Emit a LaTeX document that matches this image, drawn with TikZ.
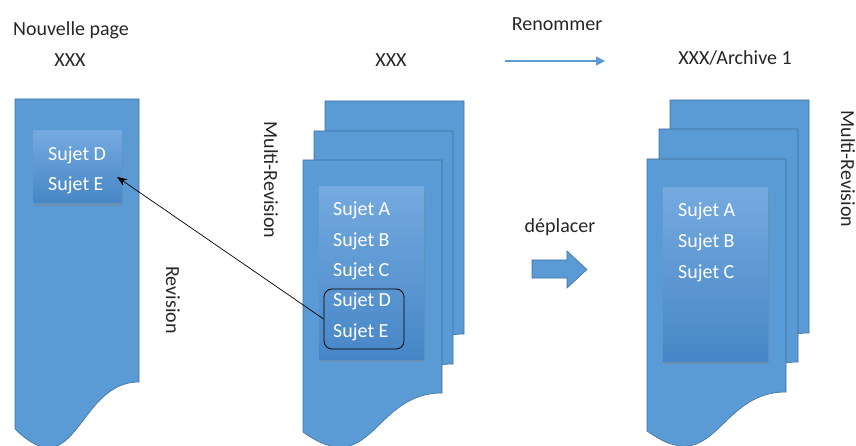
\documentclass[tikz,border=0pt]{standalone}
\usepackage{fontspec}
\setmainfont{Carlito}
\usepackage{xcolor}
\usepackage{tikz}
\usetikzlibrary{positioning,calc,shadows,arrows.meta}

\definecolor{pageblue}{HTML}{5B9BD5}
\definecolor{pageline}{HTML}{41719C}
\definecolor{boxtop}{HTML}{74AADF}
\definecolor{boxbottom}{HTML}{4786C6}
\definecolor{captiongray}{HTML}{262626}
\newcommand{\diagfont}{\fontsize{20}{24}\selectfont}

\begin{document}
\begin{tikzpicture}[
    x=1pt, y=-1pt,
    page/.style={draw=pageline, fill=pageblue, line width=0.6pt},
    topicbox/.style={rectangle, top color=boxtop, bottom color=boxbottom, draw=none,
        drop shadow={shadow xshift=1pt, shadow yshift=-3pt, opacity=0.35}},
    topic/.style={anchor=west, text=white, font=\diagfont, inner sep=0pt},
    caption/.style={text=captiongray, font=\diagfont, inner sep=0pt}
]
    \useasboundingbox (0,0) rectangle (856,446);

    % pages
    \draw[page] (15,99) -- ++(124,0) -- ++(0,283)
        .. controls +(-62,0) and +(62,61) .. ++(-124,47) -- cycle;
    \foreach \px/\py in {325/101, 314/131, 303/160, 670/100, 659/129, 647/159}
        \draw[page] (\px,\py) -- ++(139,0) -- ++(0,233)
            .. controls +(-69.5,0) and +(69.5,50) .. ++(-139,39) -- cycle;

    % topic boxes
    \node[topicbox, minimum width=89pt, minimum height=72pt] (lbox) at (77.5,167) {};
    \node[topicbox, minimum width=105pt, minimum height=172pt] (mbox) at (371.5,273) {};
    \node[topicbox, minimum width=105pt, minimum height=173pt] (rbox) at (715.5,274.5) {};

    \node[topic] (lD) at (48,155) {Sujet D};
    \node[topic] (lE) at (48,185) {Sujet E};
    \foreach \t/\ty in {A/210, B/241, C/271, D/301, E/332}
        \node[topic] (m\t) at (333,\ty) {Sujet \t};
    \foreach \t/\ty in {A/211, B/242, C/273}
        \node[topic] (r\t) at (678,\ty) {Sujet \t};

    \node[draw=black, line width=0.8pt, rounded corners=8pt,
        minimum width=80pt, minimum height=60pt] (sel) at (364,319) {};
    \draw[-{Stealth[length=10pt,width=8pt]}, line width=0.7pt]
        (sel.west) -- ([shift={(-5,10)}]lbox.east);

    % captions
    \node[caption] (newpage) at (71,30) {Nouvelle page};
    \node[caption] (lname) at (70,60) {XXX};
    \node[caption] (mname) at (391,60) {XXX};
    \node[caption] (rname) at (735,58) {XXX/Archive 1};
    \node[caption] (rename) at (557,24) {Renommer};
    \node[caption] (move) at (560,227) {déplacer};
    \node[caption, rotate=-90] (rev) at (173,300) {Revision};
    \node[caption, rotate=-90] (mrev) at (271,180) {Multi-Revision};
    \node[caption, rotate=-90] (rrev) at (848,169) {Multi-Revision};

    % rename arrow
    \coordinate (renA) at (505,61);
    \coordinate (renB) at (605,61);
    \draw[pageblue, line width=1.3pt, -{Triangle[length=9pt,width=9pt]}] (renA) -- (renB);

    % move arrow
    \draw[page] (532,260) -- (567,260) -- (567,251) -- (587,269.5)
        -- (567,288) -- (567,278) -- (532,278) -- cycle;
\end{tikzpicture}
\end{document}
